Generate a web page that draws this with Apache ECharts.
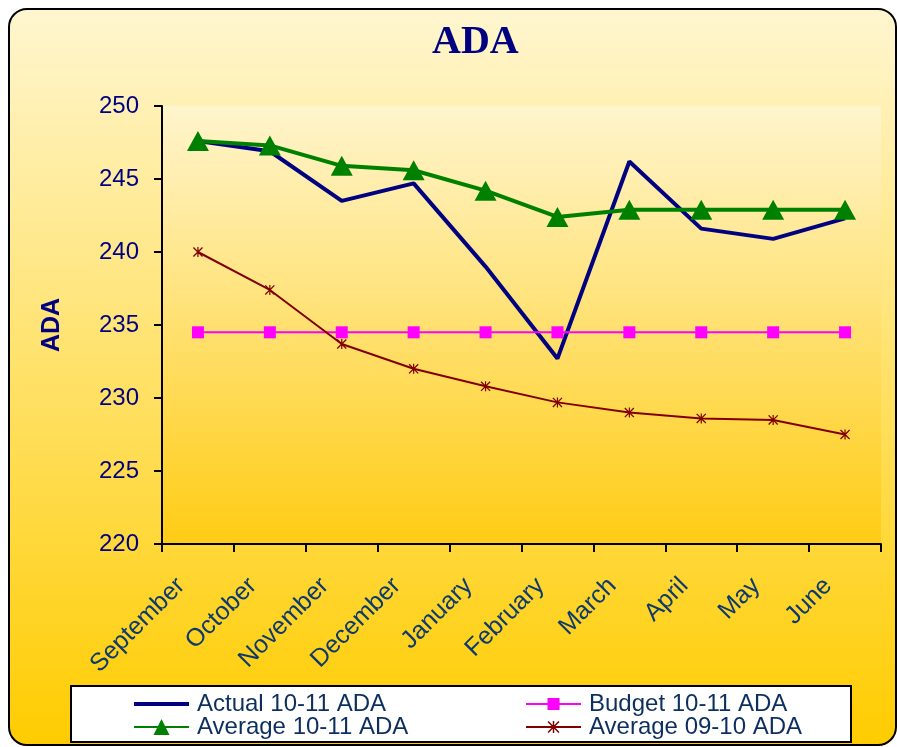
<!DOCTYPE html>
<html>
<head>
<meta charset="utf-8">
<script src="https://cdn.jsdelivr.net/npm/echarts@6/dist/echarts.min.js"></script>
<style>
html,body{margin:0;padding:0;background:#ffffff;}
#main{width:897px;height:747px;}
</style>
</head>
<body>
<div id="main"></div>
<script>
var categories = ['September','October','November','December','January','February','March','April','May','June'];
var actual1011 = [247.6, 246.9, 243.5, 244.7, 239.0, 232.7, 246.2, 241.6, 240.9, 242.3];
var budget1011 = [234.5, 234.5, 234.5, 234.5, 234.5, 234.5, 234.5, 234.5, 234.5, 234.5];
var average1011 = [247.6, 247.3, 245.9, 245.6, 244.2, 242.4, 242.9, 242.9, 242.9, 242.9];
var average0910 = [240.0, 237.4, 233.7, 232.0, 230.8, 229.7, 229.0, 228.6, 228.5, 227.5];
var yTicks = {min: 220, max: 250, step: 5};

var asterisk = 'path://M4.4,0 L5.6,0 L5.6,10 L4.4,10 Z M0,0.9 L0.9,0 L10,9.1 L9.1,10 Z M9.1,0 L10,0.9 L0.9,10 L0,9.1 Z';
var lineIcon = 'path://M0,0 L55,0 L55,4 L0,4 Z';

var legendText = {fontFamily: 'Liberation Sans', fontSize: 24, lineHeight: 22, color: '#0C2F5F', padding: [0,0,0,3]};

var chart = echarts.init(document.getElementById('main'), null, {renderer: 'canvas'});
var option = {
  backgroundColor: '#ffffff',
  animation: false,
  graphic: [
    {
      type: 'rect', z: -10,
      shape: {x: 9, y: 9, width: 887, height: 736, r: 18},
      style: {
        fill: new echarts.graphic.LinearGradient(0, 0, 0, 1, [
          {offset: 0, color: '#FFF6D0'}, {offset: 1, color: '#FFCC00'}
        ]),
        stroke: '#000000', lineWidth: 2
      }
    },
    {
      type: 'rect', z: 5,
      shape: {x: 71, y: 686, width: 780, height: 56},
      style: {fill: '#ffffff', stroke: '#000000', lineWidth: 2}
    }
  ],
  title: {
    text: 'ADA', left: 427, top: 18,
    textStyle: {fontFamily: 'Liberation Serif', fontWeight: 'bold', fontSize: 40, color: '#000080'}
  },
  legend: [
    {
      data: [{name: 'Actual 10-11 ADA', icon: lineIcon}, 'Average 10-11 ADA'],
      orient: 'vertical', left: 133, top: 692, itemGap: -1, padding: 0, z: 10,
      itemWidth: 55, itemHeight: 20,
      textStyle: legendText
    },
    {
      data: ['Budget 10-11 ADA', 'Average 09-10 ADA'],
      orient: 'vertical', left: 525, top: 692, itemGap: -1, padding: 0, z: 10,
      itemWidth: 55, itemHeight: 15,
      textStyle: legendText
    }
  ],
  grid: {
    left: 162, right: 16, top: 106, bottom: 203,
    show: true, borderWidth: 0,
    backgroundColor: new echarts.graphic.LinearGradient(0, 0, 0, 1, [
      {offset: 0, color: '#FFF5CE'}, {offset: 1, color: '#FFCC14'}
    ])
  },
  xAxis: {
    type: 'category', data: categories, boundaryGap: true,
    axisLine: {lineStyle: {color: '#000000', width: 2}},
    axisTick: {show: true, length: 8, inside: false, lineStyle: {color: '#000000', width: 2}},
    axisLabel: {
      rotate: 45, margin: 21, interval: 0,
      fontFamily: 'Liberation Sans', fontSize: 25, color: '#0C3A6E',
      padding: [0, 24, 0, 0]
    }
  },
  yAxis: {
    type: 'value', min: yTicks.min, max: yTicks.max, interval: yTicks.step,
    name: 'ADA', nameLocation: 'middle', nameGap: 97, nameRotate: 90,
    nameTextStyle: {fontFamily: 'Liberation Sans', fontWeight: 'bold', fontSize: 25, color: '#000080'},
    axisLine: {show: true, lineStyle: {color: '#000000', width: 2}},
    axisTick: {show: true, length: 8, lineStyle: {color: '#000000', width: 2}},
    splitLine: {show: false},
    axisLabel: {margin: 23, fontFamily: 'Liberation Sans', fontSize: 24, color: '#000080'}
  },
  series: [
    {
      name: 'Actual 10-11 ADA', type: 'line', data: actual1011,
      symbol: 'none', showSymbol: false,
      lineStyle: {color: '#000080', width: 4}, itemStyle: {color: '#000080'}, z: 2
    },
    {
      name: 'Budget 10-11 ADA', type: 'line', data: budget1011,
      symbol: 'rect', symbolSize: 12,
      lineStyle: {color: '#FF00FF', width: 2}, itemStyle: {color: '#FF00FF'}, z: 3
    },
    {
      name: 'Average 10-11 ADA', type: 'line', data: average1011,
      symbol: 'triangle', symbolSize: [22, 20],
      lineStyle: {color: '#008000', width: 4}, itemStyle: {color: '#008000'}, z: 4
    },
    {
      name: 'Average 09-10 ADA', type: 'line', data: average0910,
      symbol: asterisk, symbolSize: 10,
      lineStyle: {color: '#800000', width: 2}, itemStyle: {color: '#800000'}, z: 3
    }
  ]
};
chart.setOption(option);
</script>
</body>
</html>
